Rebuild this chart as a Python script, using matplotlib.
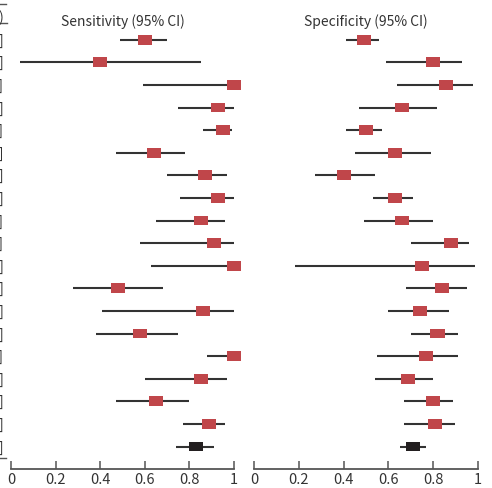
import matplotlib
matplotlib.use("Agg")
import matplotlib.pyplot as plt
from matplotlib.lines import Line2D

plt.rcParams['font.family'] = ['Noto Sans CJK JP', 'DejaVu Sans']

# Study-level estimates (18 studies) + pooled summary (last)
sens = [0.60, 0.40, 1.00, 0.93, 0.95, 0.64, 0.87, 0.93, 0.85, 0.91,
        1.00, 0.48, 0.86, 0.58, 1.00, 0.85, 0.65, 0.89, 0.83]
sens_lo = [0.49, 0.04, 0.59, 0.75, 0.86, 0.47, 0.70, 0.76, 0.65, 0.58,
           0.63, 0.28, 0.41, 0.38, 0.88, 0.60, 0.47, 0.77, 0.74]
sens_hi = [0.70, 0.85, 1.00, 1.00, 0.99, 0.78, 0.97, 1.00, 0.96, 1.00,
           1.00, 0.68, 1.00, 0.75, 1.00, 0.97, 0.80, 0.96, 0.91]

spec = [0.49, 0.80, 0.86, 0.66, 0.50, 0.63, 0.40, 0.63, 0.66, 0.88,
        0.75, 0.84, 0.74, 0.82, 0.77, 0.69, 0.80, 0.81, 0.71]
spec_lo = [0.41, 0.59, 0.64, 0.47, 0.41, 0.45, 0.27, 0.53, 0.49, 0.70,
           0.18, 0.68, 0.60, 0.70, 0.55, 0.54, 0.67, 0.67, 0.65]
spec_hi = [0.56, 0.93, 0.98, 0.82, 0.57, 0.79, 0.54, 0.71, 0.80, 0.96,
           0.99, 0.95, 0.87, 0.91, 0.91, 0.80, 0.89, 0.90, 0.77]

xticks = [0, 0.2, 0.4, 0.6, 0.8, 1]
xticklabels = ["0", "0.2", "0.4", "0.6", "0.8", "1"]
titles = ["Sensitivity (95% CI)", "Specificity (95% CI)"]

W, H = 492, 489
fig = plt.figure(figsize=(W / 100, H / 100), dpi=100)

def fx(px):
    return px / W

def fy(py):
    return 1 - py / H

ax_top, ax_bot = 29.4, 470
axes_px = [(11, 234), (254.3, 477.7)]

n = len(sens)
ys = [-i for i in range(n)]
red = "#c0464a"
dark = "#231f20"
line_col = "#333333"
mw = 0.063   # marker width in data units
mh = 0.44    # marker height in row units

datasets = [(sens, sens_lo, sens_hi), (spec, spec_lo, spec_hi)]
for k, ((l, r), (est, lo, hi)) in enumerate(zip(axes_px, datasets)):
    ax = fig.add_axes([fx(l), fy(ax_bot), fx(r - l), (ax_bot - ax_top) / H])
    ax.set_xlim(0, 1)
    ax.set_ylim(-(n - 1) - 0.5 - (ax_bot - 40.7 - 22.6 * (n - 1)) / 22.6 + 0.5,
                0.5)
    for i in range(n):
        ax.plot([lo[i], hi[i]], [ys[i], ys[i]], color=line_col, lw=1.5,
                solid_capstyle='butt', zorder=2)
    colors = [red] * (n - 1) + [dark]
    ax.barh(ys, [mw] * n, left=[e - mw / 2 for e in est], height=mh,
            color=colors, zorder=3, clip_on=False)
    for s in ["top", "right", "left"]:
        ax.spines[s].set_visible(False)
    ax.spines["bottom"].set_color("#555555")
    ax.spines["bottom"].set_linewidth(1.3)
    ax.set_yticks([])
    ax.set_xticks(xticks)
    ax.set_xticklabels(xticklabels, fontsize=10.5, color="#333333")
    ax.tick_params(axis='x', direction='in', length=5.5, width=1.1,
                   color="#555555", pad=2)
    ax.set_title(titles[k], fontsize=10, color="#333333", pad=0)
    ax.title.set_position((0.5, 1.0))
    ax.title.set_y((ax_top - 18) / (ax_bot - ax_top) + 1)
    ax.title.set_va('center')

# Left table column (mostly outside the visible region)
fig.text(fx(3.5), fy(18), "Sensitivity (95% CI)", ha='right', va='center',
         fontsize=10, color="#333333")
labels = ["{:.2f} [{:.2f}, {:.2f}]".format(e, a, b)
          for e, a, b in zip(sens, sens_lo, sens_hi)]
for i, lab in enumerate(labels):
    fig.text(fx(3.5), fy(40.7 + 22.6 * i), lab, ha='right', va='center',
             fontsize=10, color="#333333")
for py, x1 in [(5, 6), (24, 7), (459, 6)]:
    fig.add_artist(Line2D([0, fx(x1)], [fy(py), fy(py)], color="#555555",
                          lw=1.0, transform=fig.transFigure))

fig.savefig("out.png", dpi=100)
